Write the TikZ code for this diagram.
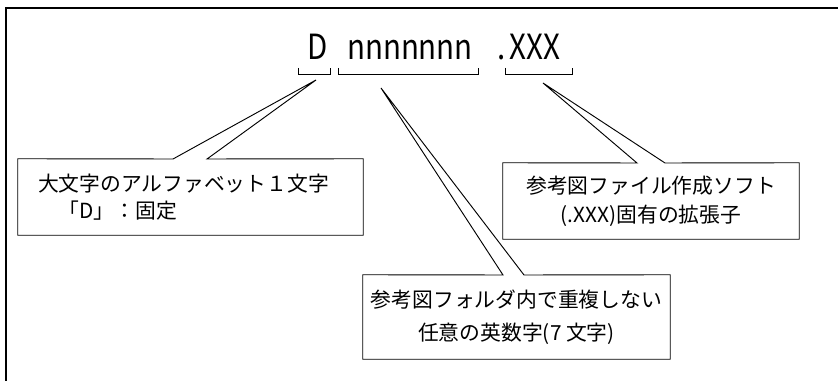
\documentclass[tikz,border=0pt]{standalone}
\usepackage{fontspec}
\setmainfont{Noto Sans CJK JP}
\newfontfamily\hdrfont[FakeStretch=0.85]{Noto Sans CJK JP}

\begin{document}
\begin{tikzpicture}[x=0.75pt,y=-0.75pt,
	line/.style={line width=0.7pt,line join=miter},
	frame/.style={line width=1.5pt,line join=miter},
	head/.style={anchor=base,inner sep=0pt,font=\hdrfont\fontsize{26}{30}\selectfont},
	callout/.style={minimum height=57pt,inner sep=0pt,font=\fontsize{15.6}{21.75}\selectfont}]
	\useasboundingbox (0,0) rectangle (838,381);
	\draw[frame] (838,8) -- (6,8) -- (6,381);

	% file name
	\node[head] (D) at (318,60) {D};
	\node[head] (name) at (410,60) {nnnnnnn};
	\node[head] (ext) at (529,60) {.\kern3pt XXX};
	\foreach \a/\b in {298/330,338/478,505/572}
		\draw[line] (\a,68) |- (\b,74) -- (\b,68);

	\begin{scope}[every node/.style={callout}]
		\node[text width=228.75pt,inner xsep=15pt,align=left] (fixed) at (190.5,197)
			{\raisebox{-2pt}{大文字のアルファベット１文字}\\\hspace*{1em}「D」：固定};
		\node[minimum width=222pt,align=center] (extbox) at (651,201)
			{参考図ファイル作成ソフト\\(.XXX)固有の拡張子};
		\node[minimum width=230.25pt,minimum height=63pt,align=center,
			font=\fontsize{15.6}{25}\selectfont] (namebox) at (516.5,317)
			{参考図フォルダ内で重複しない\\任意の英数字(7 文字)};
	\end{scope}

	% balloon tips
	\coordinate (fixedtip) at (316,80);
	\coordinate (fixedL) at (173,159);
	\coordinate (fixedR) at (207,159);
	\coordinate (exttip) at (543,83);
	\coordinate (extL) at (637,163);
	\coordinate (extR) at (665,163);
	\coordinate (nametip) at (381,88);
	\coordinate (nameL) at (503,275);
	\coordinate (nameR) at (524,275);

	\draw[line] (fixedL) -- (fixedtip) -- (fixedR) -- (fixed.north east) -- (fixed.south east)
		-- (fixed.south west) -- (fixed.north west) -- cycle;
	\draw[line] (extL) -- (exttip) -- (extR) -- (extbox.north east) -- (extbox.south east)
		-- (extbox.south west) -- (extbox.north west) -- cycle;
	\draw[line] (nameL) -- (nametip) -- (nameR) -- (namebox.north east) -- (namebox.south east)
		-- (namebox.south west) -- (namebox.north west) -- cycle;
\end{tikzpicture}
\end{document}
